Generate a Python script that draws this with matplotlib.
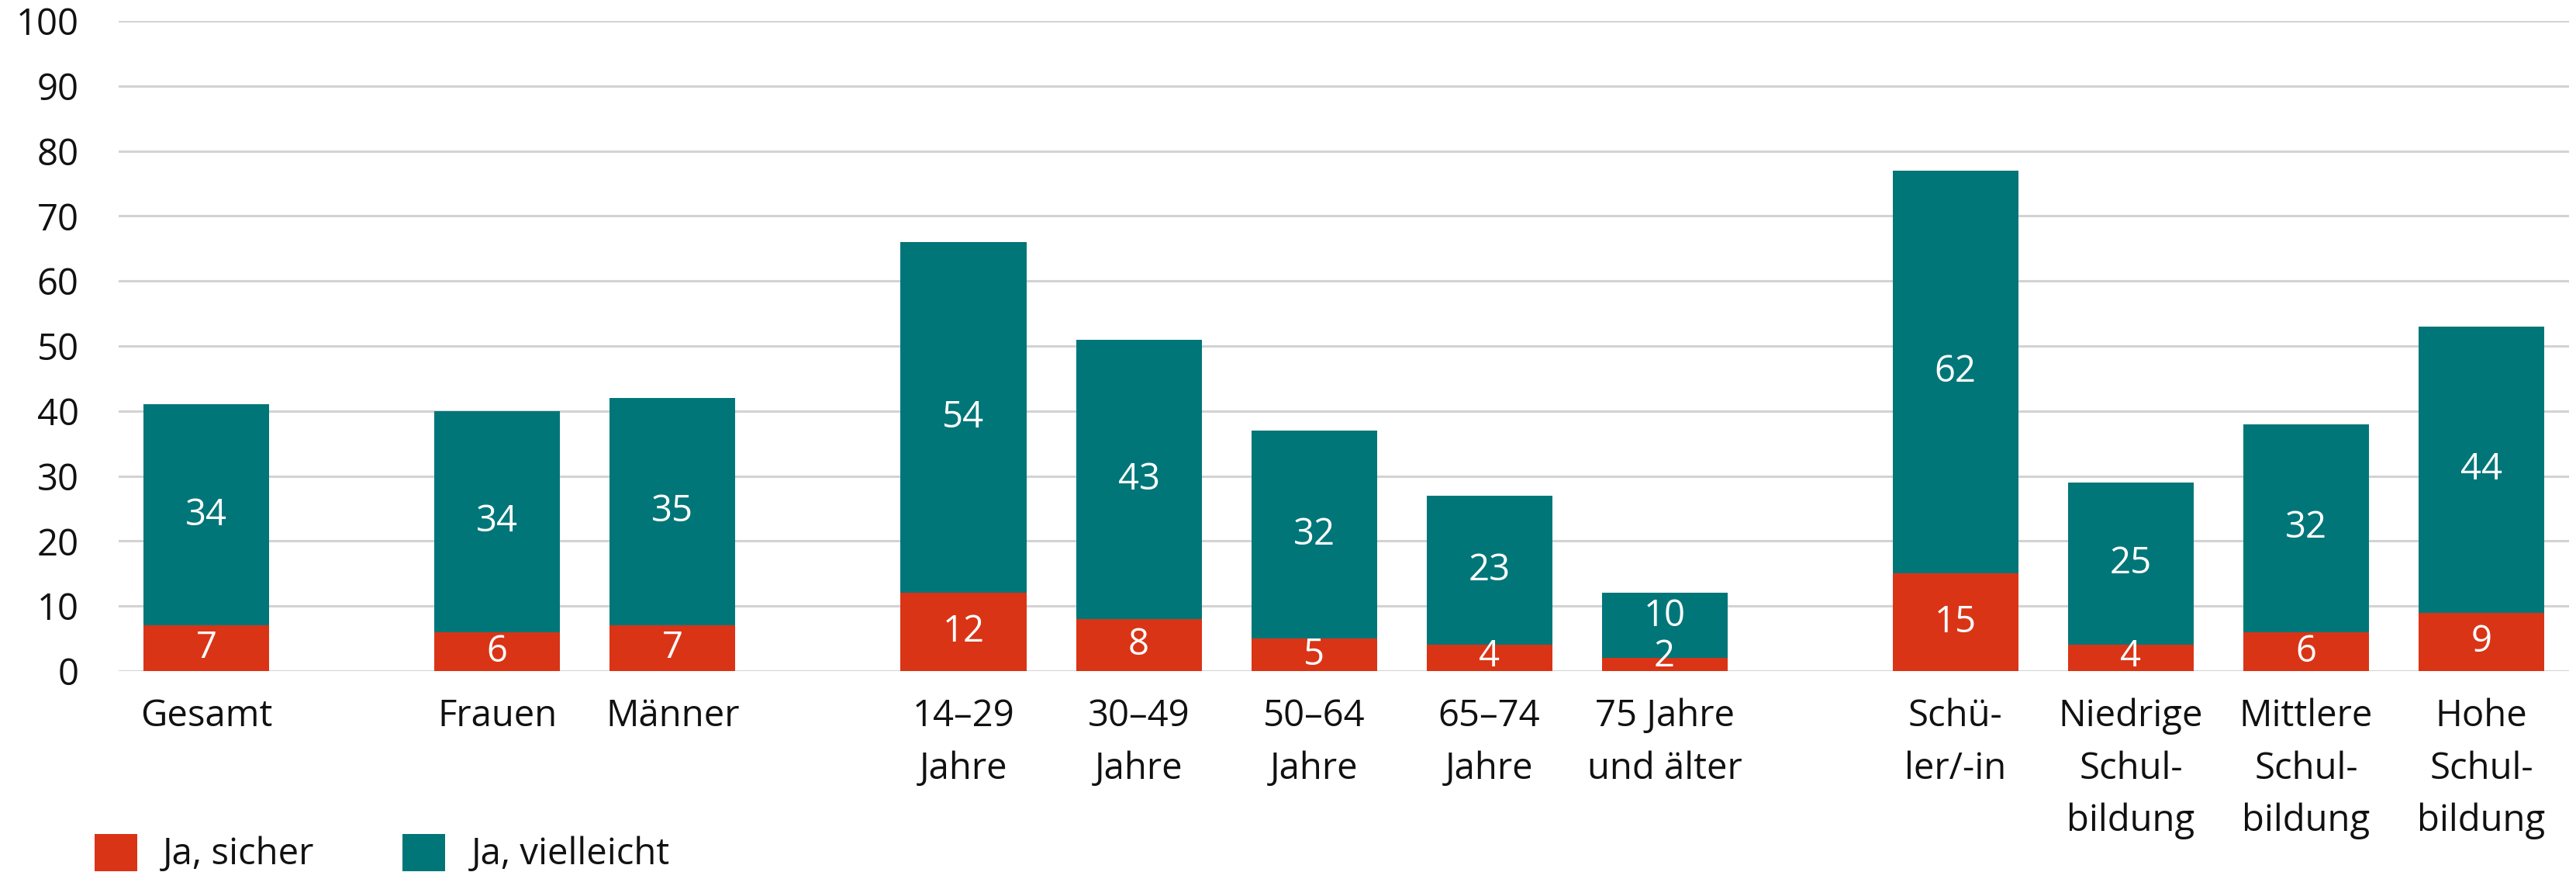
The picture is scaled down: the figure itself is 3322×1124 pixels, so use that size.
import numpy as np
import matplotlib.pyplot as plt
from matplotlib.patches import Patch

plt.rcParams['font.family'] = ['Open Sans', 'DejaVu Sans']

# Daten
kategorien = ["Gesamt", "Frauen", "Männer",
              "14–29\nJahre", "30–49\nJahre", "50–64\nJahre", "65–74\nJahre", "75 Jahre\nund älter",
              "Schü-\nler/-in", "Niedrige\nSchul-\nbildung", "Mittlere\nSchul-\nbildung", "Hohe\nSchul-\nbildung"]
gruppen = [1, 2, 5, 4]
ja_sicher = [7, 6, 7, 12, 8, 5, 4, 2, 15, 4, 6, 9]
ja_vielleicht = [34, 34, 35, 54, 43, 32, 23, 10, 62, 25, 32, 44]

rot = '#DA3416'
teal = '#007679'
fs = 34

# x-Positionen mit Lücke zwischen den Gruppen
x = []
pos = 0.0
for g in gruppen:
    for i in range(g):
        x.append(pos)
        pos += 1.0
    pos += 0.66
x = np.array(x)

sicher = np.array(ja_sicher)
vielleicht = np.array(ja_vielleicht)

fig = plt.figure(figsize=(33.23, 11.24), dpi=100)
ax = fig.add_axes([153/3323, 259/1124, 3160/3323, 838/1124])

breite = 0.717
ax.bar(x, sicher, width=breite, color=rot, zorder=2)
ax.bar(x, vielleicht, width=breite, bottom=sicher, color=teal, zorder=2)

# Werte in den Balken
for xi, s, v in zip(x, sicher, vielleicht):
    ys = max(s / 2, 2.2)
    yv = max(s + v / 2, ys + 6.3)
    ax.text(xi, ys, str(s), ha='center', va='center', color='white', fontsize=fs, zorder=3)
    ax.text(xi, yv, str(v), ha='center', va='center', color='white', fontsize=fs, zorder=3)

ax.set_ylim(0, 100)
ax.set_xlim(-0.5, 13.48)
ax.set_yticks(np.arange(0, 101, 10))
ax.set_xticks(x)
ax.set_xticklabels(kategorien, fontsize=fs, linespacing=1.55, va='top')
ax.tick_params(axis='y', labelsize=fs, length=0, pad=37, labelcolor='#111111')
ax.tick_params(axis='x', length=0, pad=25, labelcolor='#111111')
ax.yaxis.grid(True, color='#d3d3d3', linewidth=2.2, zorder=0)
ax.set_axisbelow(True)
for s in ax.spines.values():
    s.set_visible(False)

# Legende
handles = [Patch(facecolor=rot, label='Ja, sicher'), Patch(facecolor=teal, label='Ja, vielleicht')]
fig.legend(handles=handles, loc='center left', bbox_to_anchor=(122/3323, 24/1124), ncol=2,
           frameon=False, fontsize=fs, handlelength=1.17, handleheight=1.19,
           handletextpad=0.7, columnspacing=2.4, borderpad=0, borderaxespad=0,
           labelcolor='#111111')

plt.savefig('out.png', dpi=100)
